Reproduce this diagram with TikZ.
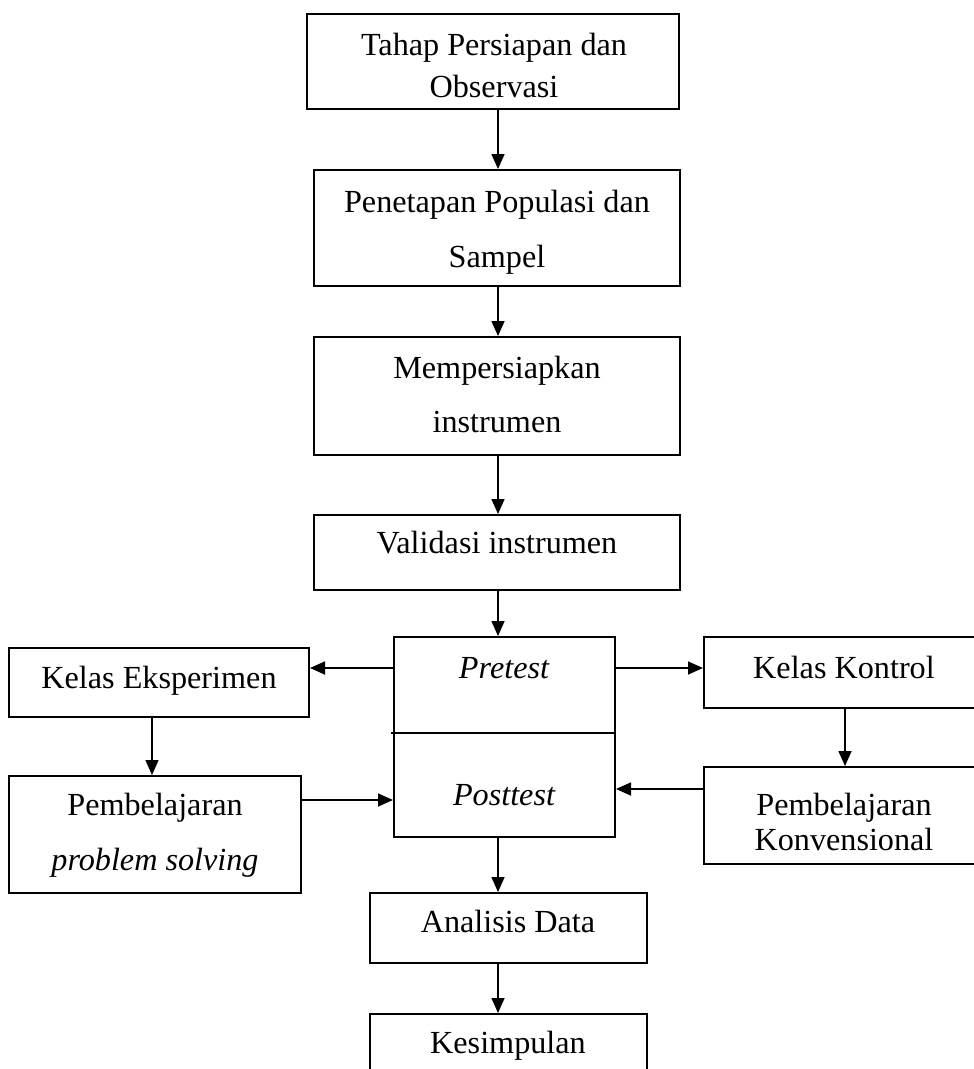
\documentclass[tikz,border=0pt]{standalone}
\usepackage{fontspec}
\setmainfont{Liberation Serif}
\usetikzlibrary{arrows.meta}
\begin{document}
\begin{tikzpicture}[x=1pt,y=-1pt,
  box/.style={draw, line width=2pt, rectangle, inner sep=0pt},
  lbl/.style={anchor=base, inner sep=0pt, font=\fontsize{32.2}{37}\selectfont},
  arr/.style={line width=1.6pt, -{Triangle[length=15pt,width=13pt]}}]
\useasboundingbox (0,0) rectangle (974,1069);
% boxes
\node[box, minimum width=372pt, minimum height=95pt] (b1) at (493,61.5) {};
\node[box, minimum width=366pt, minimum height=116pt] (b2) at (497,228) {};
\node[box, minimum width=366pt, minimum height=118pt] (b3) at (497,396) {};
\node[box, minimum width=366pt, minimum height=75pt] (b4) at (497,552.5) {};
\node[box, minimum width=221pt, minimum height=200pt] (pp) at (504.5,737) {};
\node[box, minimum width=300pt, minimum height=69pt] (ke) at (159,682.5) {};
\node[box, minimum width=292pt, minimum height=117pt] (pps) at (155,834.5) {};
\node[box, minimum width=282pt, minimum height=71pt] (kk) at (845,672.5) {};
\node[box, minimum width=282pt, minimum height=97pt] (pk) at (845,815.5) {};
\node[box, minimum width=277pt, minimum height=70pt] (ad) at (508.5,928) {};
\node[box, minimum width=277pt, minimum height=71pt] (ks) at (508.5,1049.5) {};
% labels
\node[lbl] (t1a) at (494,55) {Tahap Persiapan dan};
\node[lbl] (t1b) at (494,97) {Observasi};
\node[lbl] (t2a) at (497,212) {Penetapan Populasi dan};
\node[lbl] (t2b) at (497,267) {Sampel};
\node[lbl] (t3a) at (497,378) {Mempersiapkan};
\node[lbl] (t3b) at (497,432) {instrumen};
\node[lbl] (t4) at (497,553) {Validasi instrumen};
\node[lbl] (tpre) at (504,678) {\itshape Pretest};
\node[lbl] (tpost) at (504,805) {\itshape Posttest};
\node[lbl] (tke) at (159,688) {Kelas Eksperimen};
\node[lbl] (tpsa) at (155,815) {Pembelajaran};
\node[lbl] (tpsb) at (155,870) {\itshape problem solving};
\node[lbl] (tkk) at (844,678) {Kelas Kontrol};
\node[lbl] (tpka) at (844,815) {Pembelajaran};
\node[lbl] (tpkb) at (844,850) {Konvensional};
\node[lbl] (tad) at (508,932) {Analisis Data};
\node[lbl] (tks) at (508,1053) {Kesimpulan};
% divider
\coordinate (dv) at (391,733);
\draw[line width=1.5pt] (dv) -- (pp.east |- dv);
% connectors
\coordinate (cx) at (498,0);
\draw[arr] (b1.south -| cx) -- (b2.north -| cx);
\draw[arr] (b2.south -| cx) -- (b3.north -| cx);
\draw[arr] (b3.south -| cx) -- (b4.north -| cx);
\draw[arr] (b4.south -| cx) -- (pp.north -| cx);
\draw[arr] (pp.south -| cx) -- (ad.north -| cx);
\draw[arr] (ad.south -| cx) -- (ks.north -| cx);
\coordinate (ya) at (0,668);
\draw[arr] (pp.west |- ya) -- (ke.east |- ya);
\draw[arr] (pp.east |- ya) -- (kk.west |- ya);
\coordinate (xl) at (152,0);
\draw[arr] (ke.south -| xl) -- (pps.north -| xl);
\coordinate (xr) at (845,0);
\draw[arr] (kk.south -| xr) -- (pk.north -| xr);
\coordinate (yl) at (0,800);
\draw[arr] (pps.east |- yl) -- (pp.west |- yl);
\coordinate (yr) at (0,789);
\draw[arr] (pk.west |- yr) -- (pp.east |- yr);
\end{tikzpicture}
\end{document}
